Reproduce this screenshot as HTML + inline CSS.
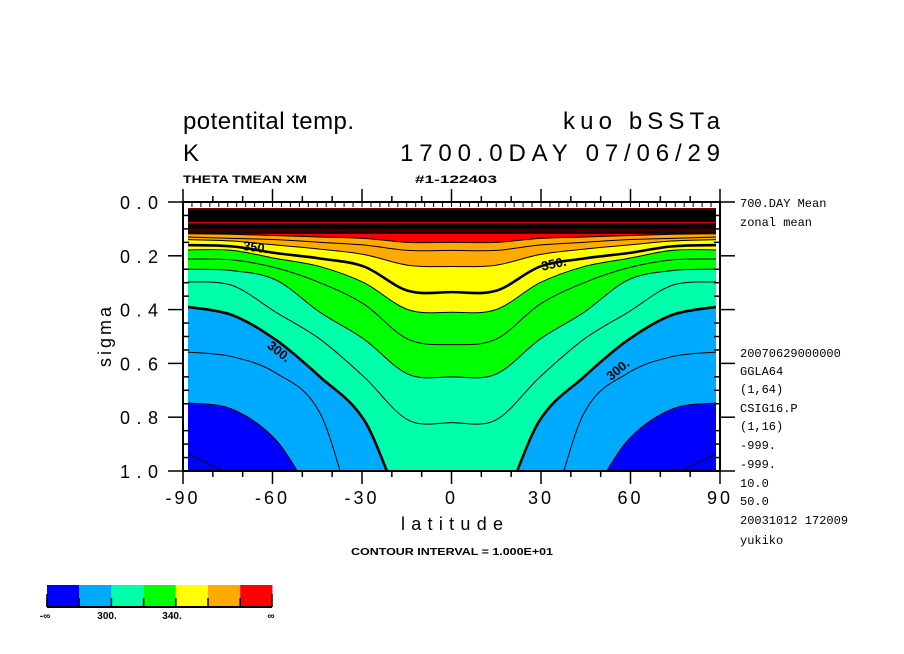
<!DOCTYPE html>
<html><head><meta charset="utf-8">
<style>
body{margin:0;background:#fff;}
svg{display:block;}
.t{font-family:"Liberation Sans",sans-serif;fill:#000;}
.m{font-family:"Liberation Mono",monospace;fill:#000;}
</style></head>
<body>
<svg id="chart" width="904" height="654" viewBox="0 0 904 654" xmlns="http://www.w3.org/2000/svg">
<defs><clipPath id="pc"><rect x="188" y="208" width="528" height="262"/></clipPath></defs>
<rect width="904" height="654" fill="#fff"/>
<text class="t" x="183" y="129" font-size="24" letter-spacing="4" textLength="175" lengthAdjust="spacing">potentital temp.</text>
<text class="t" x="563" y="129" font-size="24" textLength="157" lengthAdjust="spacing">kuo bSSTa</text>
<text class="t" x="183" y="161" font-size="24">K</text>
<text class="t" x="400" y="161" font-size="24" textLength="320" lengthAdjust="spacing">1700.0DAY 07/06/29</text>
<text class="t" x="183" y="183" font-size="11" font-weight="bold" textLength="124" lengthAdjust="spacingAndGlyphs">THETA TMEAN XM</text>
<text class="t" x="415" y="183" font-size="11" font-weight="bold" textLength="82" lengthAdjust="spacingAndGlyphs">#1-122403</text>
<g id="plot" clip-path="url(#pc)"></g>
<g id="axes"></g>
<g id="labels">
<text class="t" x="243" y="252" font-size="13" font-weight="bold" transform="rotate(8 258 247)">350.</text>
<text class="t" x="541" y="268" font-size="13" font-weight="bold" transform="rotate(-12 555 263)">350.</text>
<text class="t" x="266" y="358" font-size="13" font-weight="bold" transform="rotate(38 282 353)">300.</text>
<text class="t" x="604" y="372" font-size="13" font-weight="bold" transform="rotate(-40 620 367)">300.</text>
</g>
<text class="t" x="452" y="530" font-size="18" text-anchor="middle" textLength="102" lengthAdjust="spacing">latitude</text>
<text class="t" x="0" y="0" font-size="18" text-anchor="middle" transform="translate(111 337) rotate(-90)" textLength="60" lengthAdjust="spacing">sigma</text>
<text class="t" x="452" y="555" font-size="10" font-weight="bold" text-anchor="middle" textLength="202" lengthAdjust="spacingAndGlyphs">CONTOUR INTERVAL = 1.000E+01</text>
<g class="m" font-size="12">
<text x="740" y="207">700.DAY Mean</text>
<text x="740" y="226">zonal mean</text>
<text x="740" y="357">20070629000000</text>
<text x="740" y="375">GGLA64</text>
<text x="740" y="393">(1,64)</text>
<text x="740" y="412">CSIG16.P</text>
<text x="740" y="430">(1,16)</text>
<text x="740" y="449">-999.</text>
<text x="740" y="468">-999.</text>
<text x="740" y="487">10.0</text>
<text x="740" y="505">50.0</text>
<text x="740" y="524">20031012 172009</text>
<text x="740" y="544">yukiko</text>
</g>
<g id="legend"></g>
</svg>
<script>
const lats = [-90,-75,-60,-45,-30,-15,0,15,30,45,60,75,90];
const levels = [270,280,290,300,310,320,330,340,350,360,370,380];
const c270 = [0.937,1.02,1.15,1.25,1.3,1.3,1.3,1.3,1.3,1.25,1.15,1.02,0.937];
const c280 = [0.747,0.77,0.885,1.12,1.2,1.25,1.25,1.25,1.2,1.12,0.885,0.77,0.747];
const c290 = [0.558,0.575,0.636,0.785,1.25,1.3,1.3,1.3,1.25,0.785,0.636,0.575,0.558];
const c300 = [0.39,0.42,0.513,0.65,0.81,1.15,1.12,1.15,0.81,0.65,0.513,0.42,0.39];
const c310 = [0.297,0.31,0.41,0.51,0.65,0.81,0.82,0.81,0.65,0.51,0.41,0.31,0.297];
const c320 = [0.25,0.255,0.29,0.41,0.51,0.64,0.65,0.64,0.51,0.41,0.29,0.255,0.25];
const c330 = [0.212,0.215,0.245,0.30,0.38,0.51,0.53,0.51,0.38,0.30,0.245,0.215,0.212];
const c340 = [0.178,0.18,0.21,0.24,0.30,0.40,0.41,0.40,0.30,0.24,0.21,0.18,0.178];
const c350 = [0.16,0.165,0.19,0.21,0.24,0.33,0.335,0.33,0.24,0.21,0.19,0.165,0.16];
const c360 = [0.14,0.145,0.16,0.175,0.195,0.235,0.24,0.235,0.195,0.175,0.16,0.145,0.14];
const c370 = [0.13,0.135,0.14,0.15,0.16,0.18,0.18,0.18,0.16,0.15,0.14,0.135,0.13];
const c380 = [0.118,0.12,0.125,0.13,0.135,0.15,0.15,0.15,0.135,0.13,0.125,0.12,0.118];
const contours = [c270,c280,c290,c300,c310,c320,c330,c340,c350,c360,c370,c380];
const bandColors = ['#0000ff','#00aaff','#00ffaa','#00ff00','#ffff00','#ffaa00','#ff0000'];
const upperLines = [0.115,0.108,0.1,0.094,0.088,0.082];
const xTicks = [-90,-60,-30,0,30,60,90];
const yTicks = ['0.0','0.2','0.4','0.6','0.8','1.0'];
const legendLabels = ['-\u221e','300.','340.','\u221e'];

const NS='http://www.w3.org/2000/svg';
const X = lat => 188 + (lat+90)/180*528;
const Y = s => 202 + s*269;
const XA = lat => 183 + (lat+90)/180*537;
function mk(tag, attrs, parent){const e=document.createElementNS(NS,tag);for(const k in attrs)e.setAttribute(k,attrs[k]);parent.appendChild(e);return e;}
function curve(vals){
  const p = lats.map((l,i)=>[X(l),Y(vals[i])]);
  let d='M'+p[0][0]+','+p[0][1];
  for(let i=0;i<p.length-1;i++){
    const p0=p[Math.max(0,i-1)],p1=p[i],p2=p[i+1],p3=p[Math.min(p.length-1,i+2)];
    const c1=[p1[0]+(p2[0]-p0[0])/6,p1[1]+(p2[1]-p0[1])/6];
    const c2=[p2[0]-(p3[0]-p1[0])/6,p2[1]-(p3[1]-p1[1])/6];
    d+=' C'+c1[0]+','+c1[1]+' '+c2[0]+','+c2[1]+' '+p2[0]+','+p2[1];
  }
  return d;
}
const plot=document.getElementById('plot');
const bg=mk('rect',{x:188,y:208,width:528,height:262,fill:bandColors[6]},plot);


for(let i=levels.length-1;i>=0;i--){
  if(levels[i]%20!==0) continue;
  const band=Math.round((levels[i]-280)/20);
  const f=mk('path',{d:curve(contours[i])+' L720,500 L184,500 Z',fill:bandColors[band]},plot);
  
  
}
const blk=mk('rect',{x:188,y:Y(0.022),width:528,height:Y(0.075)-Y(0.022),fill:'#000'},plot);


upperLines.forEach((s,i)=>{
  const l=mk('path',{d:curve(lats.map(()=>s)),stroke:'#000','stroke-width':1.6,fill:'none'},plot);
  
  
});
const rs=mk('rect',{x:188,y:207,width:528,height:1.5,fill:'#ff0000'},plot);


levels.forEach((lv,i)=>{
  const l=mk('path',{d:curve(contours[i]),stroke:'#000','stroke-width':(lv%50===0)?2.6:1,fill:'none'},plot);
  
  
});
const ax=document.getElementById('axes');
const fr=mk('rect',{x:183,y:202,width:537,height:269,fill:'none',stroke:'#000','stroke-width':2},ax);


mk('rect',{x:184,y:203,width:535,height:4,fill:'#fff'},ax);
for(let lat=-90;lat<=90;lat+=10){
  const x=XA(lat), major=(lat%30===0);
  mk('line',{x1:x,x2:x,y1:202,y2:major?189:196,stroke:'#000','stroke-width':1.5},ax);
  mk('line',{x1:x,x2:x,y1:471,y2:major?484:477,stroke:'#000','stroke-width':1.5},ax);
}
for(let lat=-90;lat<=90;lat+=3){mk('line',{x1:XA(lat),x2:XA(lat),y1:202,y2:207,stroke:'#000','stroke-width':1},ax);}
xTicks.forEach(v=>{
  const t=mk('text',{x:XA(v),y:504,'font-size':18,'text-anchor':'middle','class':'t','letter-spacing':'3'},ax);
  t.textContent=String(v);
  
  
});
for(let k=0;k<=20;k++){
  const s=k*0.05,y=Y(s),major=(k%4===0);
  mk('line',{x1:183,x2:major?168:183+6,y1:y,y2:y,stroke:'#000','stroke-width':1.5},ax);
  mk('line',{x1:720,x2:major?735:714,y1:y,y2:y,stroke:'#000','stroke-width':1.5},ax);
}
yTicks.forEach(v=>{
  const t=mk('text',{x:120,y:Y(parseFloat(v))+7,'font-size':18,'class':'t',textLength:38,lengthAdjust:'spacing'},ax);
  t.textContent=v;
  
  
});
const lg=document.getElementById('legend');
bandColors.forEach((c,i)=>{
  const r=mk('rect',{x:47+i*32.2,y:585,width:32.2,height:21,fill:c},lg);
  
  
  mk('line',{x1:47+i*32.2,x2:47+i*32.2,y1:598,y2:607,stroke:'#000','stroke-width':1.5},lg);
});
mk('line',{x1:272,x2:272,y1:594,y2:607,stroke:'#000','stroke-width':1.5},lg);
mk('line',{x1:47,x2:47,y1:594,y2:607,stroke:'#000','stroke-width':1.5},lg);
mk('line',{x1:47,x2:272,y1:607,y2:607,stroke:'#000','stroke-width':2},lg);
const lx=[45,107,172,271];
legendLabels.forEach((s,i)=>{
  const t=mk('text',{x:lx[i],y:619,'font-size':10,'font-weight':'bold','text-anchor':'middle','class':'t'},lg);
  t.textContent=s;
  
  
});
</script>
</body></html>
